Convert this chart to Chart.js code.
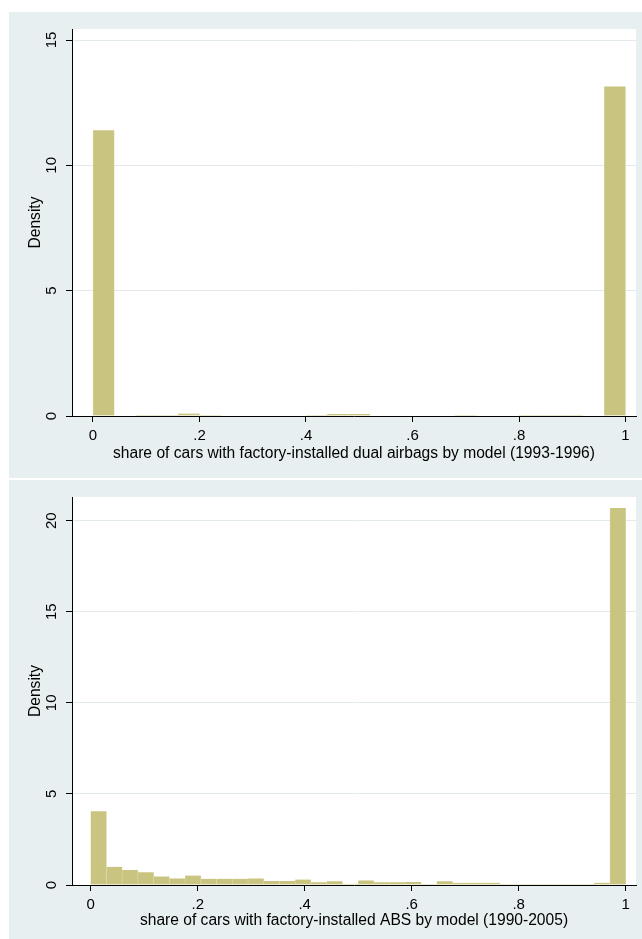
<!DOCTYPE html>
<html lang="en">
<head>
    <meta charset="UTF-8">
    <meta name="viewport" content="width=device-width, initial-scale=1.0">
    <script src="https://cdn.jsdelivr.net/npm/chart.js@4.4.1/dist/chart.umd.min.js"></script>
    <title>Dual airbags and ABS by model</title>
    <style>
        body { margin: 0; background: #fff; width: 642px; height: 939px; position: relative; overflow: hidden; }
        .panel { position: absolute; left: 9px; width: 633px; background: #e8eff1; }
        #top { top: 12px; height: 466px; }
        #bottom { top: 480px; height: 459px; }
    </style>
</head>
<body>
    <div class="panel" id="top"><canvas id="airbags"></canvas></div>
    <div class="panel" id="bottom"><canvas id="abs"></canvas></div>

    <script>
        // Histogram of dual-airbag share, 25 bins of width .04
        const airbagBinWidth = 0.04;
        const airbagDensity = [11.4, 0, 0.04, 0.04, 0.1, 0.04, 0, 0, 0, 0, 0.04, 0.08, 0.08,
                               0, 0, 0, 0, 0.04, 0, 0, 0.04, 0.04, 0.04, 0, 13.15];
        const airbagTitle = 'share of cars with factory-installed dual airbags by model (1993-1996)';
        const airbagYTicks = [0, 5, 10, 15];

        // Histogram of ABS share, 34 bins
        const absBinWidth = 1 / 34;
        const absDensity = [4.05, 1.0, 0.83, 0.7, 0.47, 0.36, 0.52, 0.34, 0.34, 0.34, 0.36, 0.22,
                            0.22, 0.3, 0.15, 0.2, 0.07, 0.25, 0.15, 0.15, 0.17, 0.06, 0.2, 0.12,
                            0.12, 0.12, 0.05, 0.05, 0.05, 0.05, 0.05, 0.05, 0.13, 20.7];
        const absTitle = 'share of cars with factory-installed ABS by model (1990-2005)';
        const absYTicks = [0, 5, 10, 15, 20];

        const xTicks = [0, 0.2, 0.4, 0.6, 0.8, 1];

        const barFill = '#c9c47f';
        const barEdge = '#dedab0';
        const gridColor = '#e2eaee';
        const family = '"Liberation Sans", Arial, sans-serif';
        const tickFont = { family: family, size: 15 };
        const titleFont = { family: family, size: 15.6 };

        function fmtShare(v) {
            if (v === 0 || v === 1) return String(v);
            return v.toFixed(1).replace(/^0/, '');
        }

        // white plot region on top of the panel background
        const plotBg = {
            id: 'plotBg',
            beforeDraw(chart) {
                const a = chart.chartArea;
                const c = chart.ctx;
                c.save();
                c.fillStyle = '#fff';
                c.fillRect(a.left, a.top, a.right - a.left, a.bottom - a.top);
                c.restore();
            }
        };

        function histogram(id, binWidth, density, title, yTicks, opt) {
            const points = density.map((d, i) => ({ x: (i + 0.5) * binWidth, y: d }));
            return new Chart(document.getElementById(id), {
                type: 'bar',
                data: {
                    datasets: [{
                        data: points,
                        backgroundColor: barFill,
                        borderColor: barEdge,
                        borderWidth: { left: 0.6, right: 0.6, top: 0, bottom: 0 },
                        borderSkipped: false,
                        barPercentage: 1,
                        categoryPercentage: 1
                    }]
                },
                options: {
                    responsive: true,
                    maintainAspectRatio: false,
                    animation: false,
                    layout: { padding: { left: 0, top: 17, right: 6, bottom: 0 } },
                    plugins: { legend: { display: false }, tooltip: { enabled: false } },
                    scales: {
                        x: {
                            type: 'linear',
                            min: opt.xMin,
                            max: opt.xMax,
                            offset: false,
                            afterBuildTicks: s => { s.ticks = xTicks.map(v => ({ value: v })); },
                            afterFit: s => { s.height = opt.xHeight; },
                            border: { display: true, color: '#000', width: 1 },
                            grid: { offset: false, drawOnChartArea: false, drawTicks: true, tickLength: 6, tickColor: '#000' },
                            ticks: { color: '#000', font: tickFont, padding: 5, maxRotation: 0, callback: v => fmtShare(v) },
                            title: { display: true, text: title, color: '#000', font: titleFont,
                                     padding: { top: 0, bottom: opt.titlePad } }
                        },
                        y: {
                            min: 0,
                            max: opt.yMax,
                            afterBuildTicks: s => { s.ticks = yTicks.map(v => ({ value: v })); },
                            afterFit: s => { s.width = 63; },
                            border: { display: true, color: '#000', width: 1 },
                            grid: { color: gridColor, lineWidth: 1, drawTicks: true, tickLength: 6, tickColor: '#000' },
                            ticks: { color: '#000', font: tickFont, padding: 6, minRotation: 90, maxRotation: 90, crossAlign: 'center' },
                            title: { display: true, text: 'Density', color: '#000', font: titleFont, padding: { top: 17, bottom: 0 } }
                        }
                    }
                },
                plugins: [plotBg]
            });
        }

        histogram('airbags', airbagBinWidth, airbagDensity, airbagTitle, airbagYTicks,
                  { xMin: -0.0394, xMax: 1.0197, yMax: 15.44, xHeight: 62, titlePad: 15 });
        histogram('abs', absBinWidth, absDensity, absTitle, absYTicks,
                  { xMin: -0.035, xMax: 1.0193, yMax: 21.3, xHeight: 54, titlePad: 9 });
    </script>
</body>
</html>
